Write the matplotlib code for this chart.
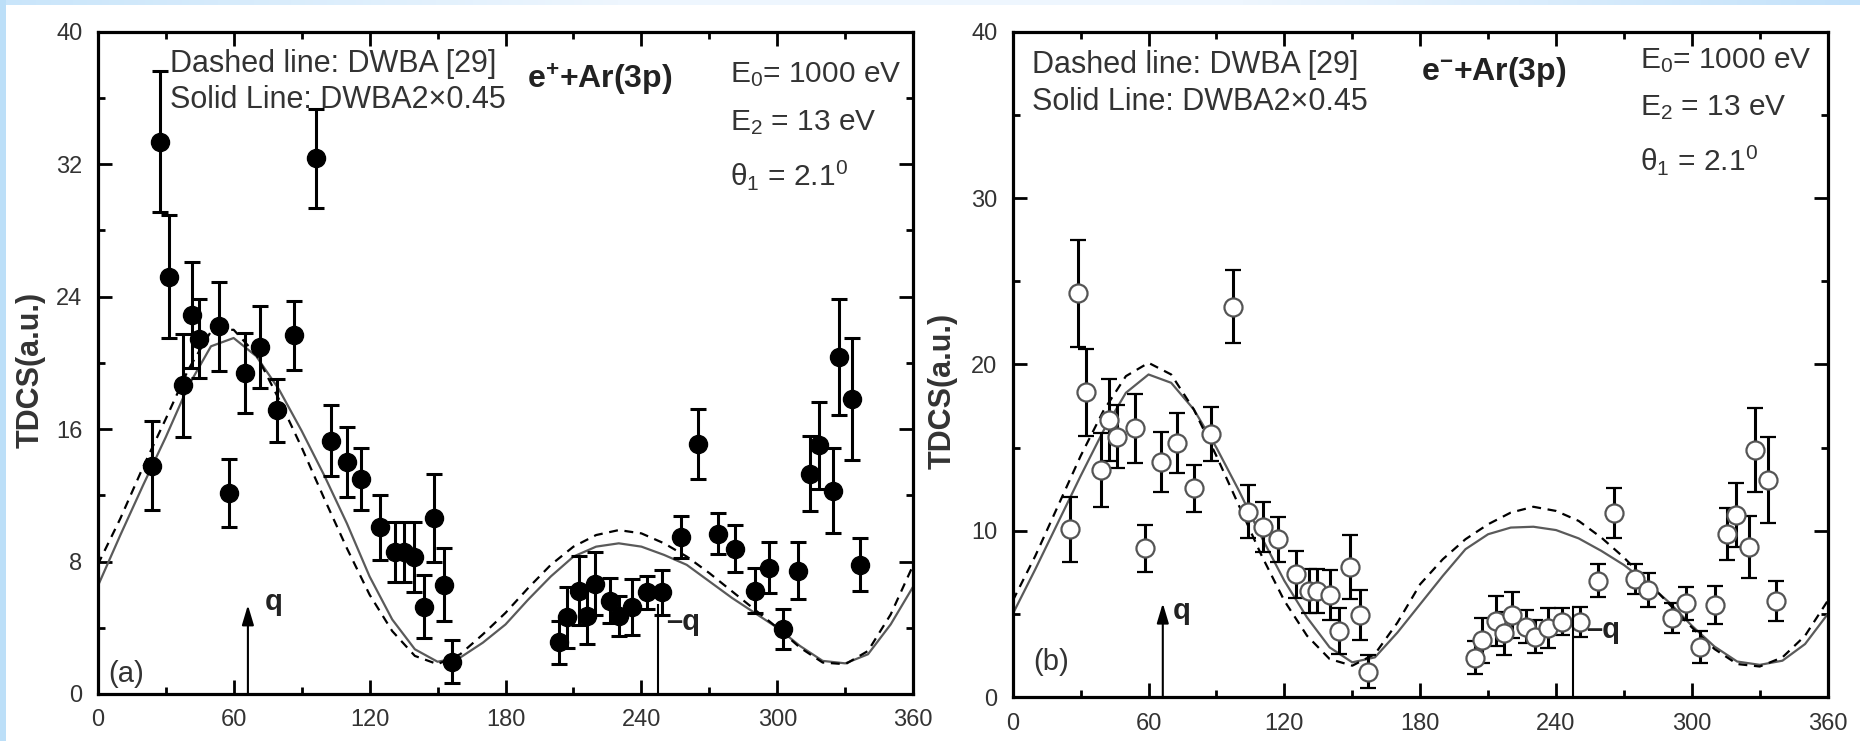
import numpy as np
import matplotlib
matplotlib.use('Agg')
from matplotlib import pyplot as plt
from matplotlib.patches import Rectangle
from matplotlib.colors import LinearSegmentedColormap
from matplotlib.ticker import MultipleLocator

plt.rcParams['font.family'] = ['Liberation Sans', 'DejaVu Sans']
plt.rcParams['mathtext.fontset'] = 'custom'
plt.rcParams['mathtext.rm'] = 'Liberation Sans'
plt.rcParams['mathtext.bf'] = 'Liberation Sans:bold'
plt.rcParams['mathtext.it'] = 'Liberation Sans:italic'

# ---- data ----
# theory curves, sampled every 10 deg
ang = list(range(0, 361, 10))
solid_a = [6.5, 9.6, 12.6, 15.5, 18.6, 21.0, 21.5, 20.4, 18.4, 15.9, 13.2, 10.3, 7.1,
           4.5, 2.7, 1.95, 2.2, 3.1, 4.2, 5.7, 7.1, 8.3, 8.9, 9.1, 8.9, 8.4, 7.8,
           6.8, 5.8, 4.9, 4.0, 2.9, 2.0, 1.85, 2.4, 4.2, 6.5]
dashed_a = [7.8, 10.6, 13.7, 16.6, 19.6, 21.9, 22.0, 20.5, 17.8, 14.9, 11.8, 8.8, 6.0,
            3.8, 2.3, 1.8, 2.4, 3.6, 4.9, 6.4, 7.8, 8.9, 9.6, 9.9, 9.7, 9.1, 8.3,
            7.3, 6.2, 5.1, 4.0, 2.8, 1.9, 1.8, 2.6, 4.8, 7.8]
solid_b = [5.0, 7.7, 10.5, 13.3, 16.0, 18.3, 19.4, 18.9, 17.3, 15.0, 12.4, 9.6, 7.0,
           4.8, 3.0, 2.1, 2.4, 3.9, 5.6, 7.3, 8.9, 9.8, 10.2, 10.25, 10.05, 9.55, 8.8,
           7.95, 6.9, 5.7, 4.3, 3.05, 2.15, 1.95, 2.2, 3.2, 5.0]
dashed_b = [5.8, 8.5, 11.5, 14.5, 17.2, 19.3, 20.1, 19.4, 17.3, 14.5, 11.5, 8.5, 5.8,
            3.7, 2.3, 1.9, 2.6, 4.5, 6.8, 8.3, 9.5, 10.4, 11.1, 11.45, 11.2, 10.6, 9.6,
            8.4, 7.0, 5.6, 4.2, 2.9, 2.0, 1.85, 2.4, 3.7, 5.8]

# (a) e+ measurements
xa = [24.0, 27.7, 31.6, 37.7, 41.6, 44.9, 53.4, 57.8, 65.2, 71.5, 79.1, 86.5,
      96.3, 103.0, 110.0, 116.3, 124.4, 131.3, 135.0, 139.4, 144.1, 148.5, 153.0, 156.6,
      203.7, 207.1, 212.5, 215.9, 219.6, 226.2, 229.9, 235.8, 242.4, 249.0, 257.5, 264.9,
      273.7, 281.3, 290.2, 296.5, 302.4, 309.0, 314.4, 318.5, 324.7, 327.2, 332.8, 336.5]
ya = [13.8, 33.35, 25.2, 18.64, 22.87, 21.46, 22.2, 12.15, 19.39, 20.96, 17.13, 21.66,
      32.35, 15.31, 14.0, 13.0, 10.07, 8.56, 8.56, 8.26, 5.28, 10.64, 6.61, 1.95,
      3.12, 4.63, 6.25, 4.73, 6.65, 5.64, 4.73, 5.24, 6.14, 6.14, 9.47, 15.11,
      9.67, 8.77, 6.25, 7.62, 3.93, 7.45, 13.3, 15.01, 12.29, 20.35, 17.83, 7.82]
ea = [2.67, 4.25, 3.7, 3.1, 3.2, 2.4, 2.7, 2.07, 2.4, 2.5, 1.9, 2.1,
      3.0, 2.15, 2.1, 1.87, 1.97, 1.8, 1.8, 2.1, 1.9, 2.67, 2.2, 1.3,
      1.28, 1.86, 2.1, 1.7, 1.9, 1.35, 1.2, 1.7, 1.0, 1.36, 1.26, 2.1,
      1.24, 1.43, 1.35, 1.53, 1.2, 1.7, 2.26, 2.6, 2.57, 3.5, 3.67, 1.6]

# (b) e- measurements
xb = [25.3, 28.7, 32.4, 38.8, 42.5, 46.2, 54.0, 58.4, 65.3, 72.4, 80.2, 87.5,
      97.4, 104.0, 110.6, 117.2, 125.3, 130.8, 134.6, 140.0, 144.2, 148.9, 153.3, 157.0,
      204.1, 207.4, 213.3, 216.9, 220.5, 226.6, 230.5, 236.4, 242.8, 250.4, 258.5, 265.5,
      274.7, 280.5, 291.1, 297.2, 303.8, 310.0, 315.4, 319.6, 325.1, 328.1, 333.5, 337.2]
yb = [10.11, 24.28, 18.33, 13.66, 16.66, 15.66, 16.16, 8.95, 14.16, 15.3, 12.56, 15.82,
      23.47, 11.16, 10.25, 9.5, 7.39, 6.39, 6.39, 6.15, 3.98, 7.81, 4.95, 1.54,
      2.38, 3.44, 4.6, 3.85, 4.95, 4.24, 3.64, 4.15, 4.54, 4.54, 7.01, 11.1,
      7.09, 6.45, 4.75, 5.65, 3.04, 5.55, 9.81, 10.96, 9.05, 14.86, 13.06, 5.8]
eb = [1.95, 3.2, 2.6, 2.2, 2.45, 1.9, 2.05, 1.43, 1.8, 1.8, 1.4, 1.6,
      2.2, 1.6, 1.5, 1.35, 1.43, 1.33, 1.33, 1.5, 1.37, 1.93, 1.5, 1.0,
      1.0, 1.35, 1.5, 1.3, 1.4, 1.0, 1.0, 1.2, 0.8, 0.9, 1.0, 1.5,
      0.9, 1.0, 0.9, 1.0, 0.95, 1.15, 1.55, 1.9, 1.87, 2.5, 2.6, 1.2]

# momentum transfer directions (deg)
q_dir = 66.3
mq_dir = 247.5

TXT = '#333333'

fig = plt.figure(figsize=(18.6, 7.41), dpi=100)
fig.patch.set_facecolor('white')

# light blue frame on the left and top
fig.patches.append(Rectangle((0, 0), 6 / 1860, 1, transform=fig.transFigure,
                             facecolor='#bcdff8', edgecolor='none', zorder=0))
band = fig.add_axes([0, 1 - 5 / 741, 1, 5 / 741])
cmap = LinearSegmentedColormap.from_list('band', ['#c9e5fa', '#eef6fe', '#eef6fe', '#c4e2fa'])
band.imshow(np.linspace(0, 1, 256)[None, :], aspect='auto', cmap=cmap)
band.axis('off')


def style_axes(ax, ymax, ymaj, ymin):
    ax.set_xlim(0, 360)
    ax.set_ylim(0, ymax)
    ax.xaxis.set_major_locator(MultipleLocator(60))
    ax.xaxis.set_minor_locator(MultipleLocator(30))
    ax.yaxis.set_major_locator(MultipleLocator(ymaj))
    ax.yaxis.set_minor_locator(MultipleLocator(ymin))
    ax.tick_params(which='both', direction='in', top=True, right=True, width=2.0,
                   labelsize=17, labelcolor=TXT)
    ax.tick_params(which='major', length=10, pad=11)
    ax.tick_params(which='minor', length=5)
    for s in ax.spines.values():
        s.set_linewidth(2.3)
    ax.set_ylabel('TDCS(a.u.)', fontsize=22, fontweight='bold', color=TXT)


def panel(ax, x, y, e, sol, das, filled, sign, tag, txt_pos, q_top, mq_top):
    ax.plot(ang, sol, color='#5a5a5a', lw=1.6, zorder=2)
    ax.plot(ang, das, color='k', lw=1.6, ls=(0, (4, 3)), zorder=2)
    if filled:
        ax.errorbar(x, y, yerr=e, fmt='o', ms=13, mfc='k', mec='k', ecolor='k',
                    elinewidth=2.2, capsize=6, capthick=2.2, zorder=3)
    else:
        ax.errorbar(x, y, yerr=e, fmt='o', ms=13, mfc='white', mec='#555555', mew=1.6,
                    ecolor='k', elinewidth=2.2, capsize=6, capthick=2.2, zorder=3)
    ax.annotate('', xy=(q_dir, q_top), xytext=(q_dir, 0),
                arrowprops=dict(arrowstyle='-|>,head_length=0.6,head_width=0.18',
                                color='k', lw=1.5, mutation_scale=20,
                                shrinkA=0, shrinkB=0), zorder=4)
    ax.plot([mq_dir, mq_dir], [0, mq_top], color='k', lw=1.5, zorder=4)

    (dx, dy1, dy2), (ex, ey), (fx, fy0, fy2, fy1), (qx, qy), (mx, my), (tx, ty) = txt_pos
    ax.text(dx, dy1, 'Dashed line: DWBA [29]', fontsize=22, color=TXT, va='baseline')
    ax.text(dx, dy2, 'Solid Line: DWBA2\u00d70.45', fontsize=22, color=TXT, va='baseline')
    ax.text(ex, ey, r'e$^{\mathbf{%s}}$+Ar(3p)' % sign, fontsize=23, fontweight='bold',
            color='#222222', va='baseline')
    ax.text(fx, fy0, r'E$_\mathrm{0}$= 1000 eV', fontsize=21.5, color=TXT, va='baseline')
    ax.text(fx, fy2, r'E$_\mathrm{2}$ = 13 eV', fontsize=21.5, color=TXT, va='baseline')
    ax.text(fx, fy1, '\u03b8' + r'$_\mathrm{1}$ = 2.1$^\mathrm{0}$',
            fontsize=21.5, color=TXT, va='baseline')
    ax.text(qx, qy, 'q', fontsize=21, fontweight='bold', color='#222222', va='baseline')
    ax.text(mx, my, '\u2013q', fontsize=21, fontweight='bold', color='#222222', va='baseline')
    ax.text(tx, ty, tag, fontsize=21, color=TXT, va='center')


ax1 = fig.add_axes([97.7 / 1860, 47 / 741, 815.6 / 1860, 662.3 / 741])
style_axes(ax1, 40, 8, 4)
ax1.yaxis.set_label_coords(-0.064, 0.49)
panel(ax1, xa, ya, ea, solid_a, dashed_a, True, '+', '(a)',
      [(31.9, 37.58, 35.37), (189.4, 36.58), (279.1, 36.98, 34.06, 30.74),
       (73.8, 5.1), (251.1, 3.86), (4.5, 1.2)], 5.37, 5.37)

ax2 = fig.add_axes([1012.7 / 1860, 43.7 / 741, 815.0 / 1860, 665.6 / 741])
style_axes(ax2, 40, 10, 5)
ax2.yaxis.set_label_coords(-0.068, 0.46)
panel(ax2, xb, yb, eb, solid_b, dashed_b, False, '-', '(b)',
      [(8.4, 37.54, 35.3), (180.5, 37.1), (276.9, 37.8, 35.0, 31.7),
       (70.5, 4.7), (253.4, 3.56), (9.0, 2.14)], 5.65, 5.44)

fig.savefig('out.png', dpi=100, facecolor=fig.get_facecolor())
